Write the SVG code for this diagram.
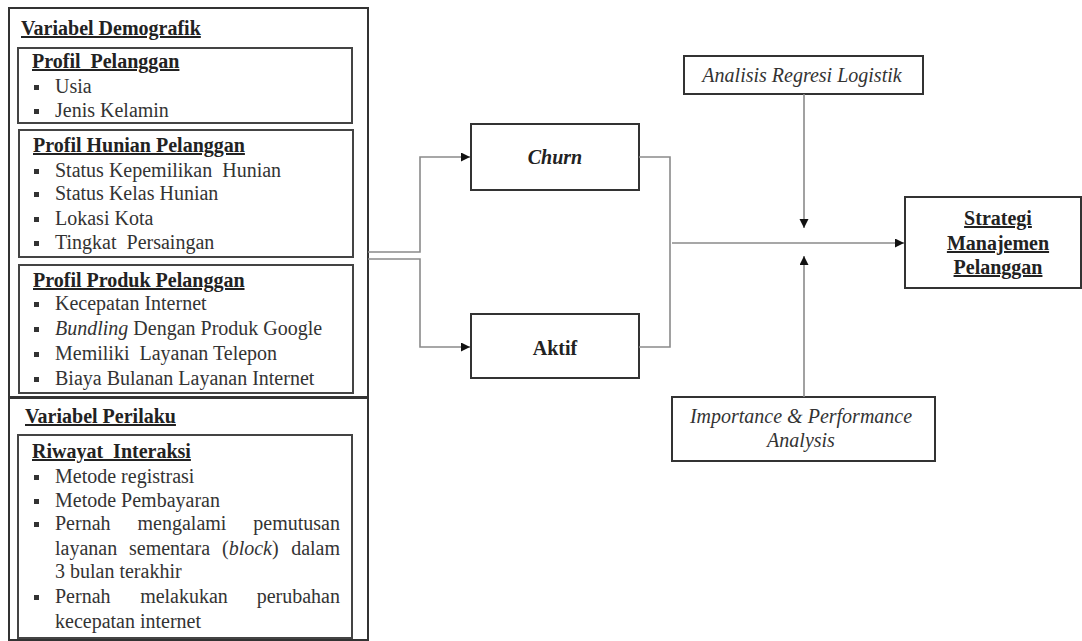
<svg xmlns="http://www.w3.org/2000/svg" width="1082" height="641" viewBox="0 0 1082 641">
<style>
text{font-family:"Liberation Serif","Times New Roman",serif;font-size:20px;fill:#333;white-space:pre}
.h{font-weight:bold;text-decoration:underline;fill:#222}
.bx{fill:#fff;stroke:#333;stroke-width:2}
.ib{fill:none;stroke:#444;stroke-width:2}
.b{fill:#333}
.c{fill:none;stroke:#8a8a8a;stroke-width:1.6}
.i{font-style:italic}
.m{text-anchor:middle}
.e{text-anchor:end}
</style>
<defs>
<marker id="ah" markerUnits="userSpaceOnUse" markerWidth="10" markerHeight="10" refX="9" refY="4.5" orient="auto">
<path d="M0,0 L9,4.5 L0,9 z" fill="#111"/>
</marker>
</defs>
<rect width="1082" height="641" fill="#fff"/>

<g id="demografik">
<rect class="bx" x="9" y="8" width="359" height="389"/>
<text class="h" x="21" y="35">Variabel Demografik</text>
</g>

<g id="profil-pelanggan">
<rect class="ib" x="18" y="48" width="334" height="75"/>
<text class="h" x="32" y="68" xml:space="preserve">Profil  Pelanggan</text>
<rect class="b" x="34" y="85" width="5" height="5"/><text x="55" y="93">Usia</text>
<rect class="b" x="34" y="109" width="5" height="5"/><text x="55" y="117">Jenis Kelamin</text>
</g>

<g id="profil-hunian">
<rect class="ib" x="19" y="130" width="334" height="127"/>
<text class="h" x="33" y="152">Profil Hunian Pelanggan</text>
<rect class="b" x="34" y="169" width="5" height="5"/><text x="55" y="177" xml:space="preserve">Status Kepemilikan  Hunian</text>
<rect class="b" x="34" y="192" width="5" height="5"/><text x="55" y="200">Status Kelas Hunian</text>
<rect class="b" x="34" y="217" width="5" height="5"/><text x="55" y="225">Lokasi Kota</text>
<rect class="b" x="34" y="241" width="5" height="5"/><text x="55" y="249" xml:space="preserve">Tingkat  Persaingan</text>
</g>

<g id="profil-produk">
<rect class="ib" x="19" y="265" width="334" height="128"/>
<text class="h" x="33" y="287">Profil Produk Pelanggan</text>
<rect class="b" x="34" y="302" width="5" height="5"/><text x="55" y="310">Kecepatan Internet</text>
<rect class="b" x="34" y="327" width="5" height="5"/><text x="55" y="335"><tspan class="i">Bundling</tspan> Dengan Produk Google</text>
<rect class="b" x="34" y="352" width="5" height="5"/><text x="55" y="360" xml:space="preserve">Memiliki  Layanan Telepon</text>
<rect class="b" x="34" y="377" width="5" height="5"/><text x="55" y="385">Biaya Bulanan Layanan Internet</text>
</g>

<g id="perilaku">
<rect class="bx" x="9" y="398" width="359" height="242"/>
<text class="h" x="25" y="423">Variabel Perilaku</text>
</g>

<g id="riwayat-interaksi">
<rect class="ib" x="18" y="435" width="334" height="203"/>
<text class="h" x="32" y="458" xml:space="preserve">Riwayat  Interaksi</text>
<rect class="b" x="34" y="475" width="5" height="5"/><text x="55" y="483">Metode registrasi</text>
<rect class="b" x="34" y="499" width="5" height="5"/><text x="55" y="507">Metode Pembayaran</text>
<rect class="b" x="34" y="522" width="5" height="5"/>
<text x="55" y="530">Pernah</text><text class="m" x="182" y="530">mengalami</text><text class="e" x="340" y="530">pemutusan</text>
<text x="55" y="555">layanan</text><text x="129" y="555">sementara</text><text x="222" y="555">(<tspan class="i">block</tspan>)</text><text class="e" x="340" y="555">dalam</text>
<text x="55" y="578">3 bulan terakhir</text>
<rect class="b" x="34" y="595" width="5" height="5"/>
<text x="55" y="603">Pernah</text><text class="m" x="184" y="603">melakukan</text><text class="e" x="340" y="603">perubahan</text>
<text x="55" y="628">kecepatan internet</text>
</g>

<g id="churn">
<rect class="bx" x="471" y="124" width="168" height="66"/>
<text class="m i" x="555" y="164" style="font-weight:bold;fill:#222">Churn</text>
</g>

<g id="aktif">
<rect class="bx" x="471" y="314" width="168" height="64"/>
<text class="m" x="555" y="355" style="font-weight:bold;fill:#222">Aktif</text>
</g>

<g id="analisis-regresi">
<rect class="bx" x="684" y="56" width="239" height="38"/>
<text class="m i" x="802" y="82">Analisis Regresi Logistik</text>
</g>

<g id="ipa">
<rect class="bx" x="672" y="397" width="263" height="64"/>
<text class="m i" x="801" y="423">Importance &amp; Performance</text>
<text class="m i" x="801" y="447">Analysis</text>
</g>

<g id="strategi">
<rect class="bx" x="905" y="197" width="176" height="91"/>
<text class="h m" x="998" y="225">Strategi</text>
<text class="h m" x="998" y="250">Manajemen</text>
<text class="h m" x="998" y="274">Pelanggan</text>
</g>

<g id="connectors">
<path class="c" d="M368,252 H420 V157 H470" marker-end="url(#ah)"/>
<path class="c" d="M368,259 H420 V347 H470" marker-end="url(#ah)"/>
<path class="c" d="M639,157 H670 V347 H639"/>
<path class="c" d="M672,243 H904" marker-end="url(#ah)"/>
<path class="c" d="M804,94 V228" marker-end="url(#ah)"/>
<path class="c" d="M804,397 V256" marker-end="url(#ah)"/>
</g>
</svg>
